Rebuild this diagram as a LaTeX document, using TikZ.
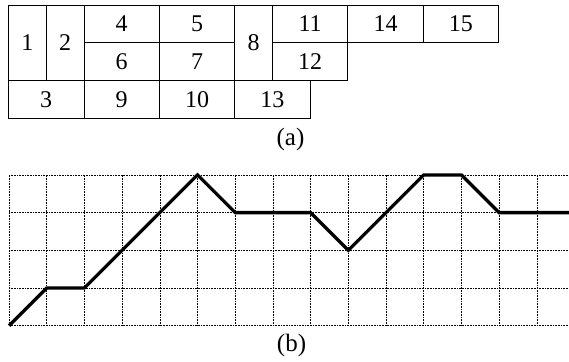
\documentclass[tikz,border=0pt]{standalone}
\usepackage{fontspec}
\setmainfont{Liberation Serif}
\begin{document}
\begin{tikzpicture}[x=1pt,y=-1pt,
  cell/.style={draw, line width=0.8pt, inner sep=0pt, font=\fontsize{24}{28}\selectfont},
  gridline/.style={line width=0.6pt, dash pattern=on 0.8pt off 0.8pt},
  curve/.style={line width=3.3pt, line join=miter},
  caption/.style={font=\fontsize{25}{29}\selectfont, inner sep=0pt}]
\useasboundingbox (0,0) rectangle (569,361);
\def\u{37.7}
\def\tx{8.5}
\def\ty{5}
% table cells: \cellat{name}{col0}{col1}{row0}{row1}{text}
\newcommand\cellat[6]{%
  \node[cell, minimum width={(#3-#2)*\u*1pt}, minimum height={(#5-#4)*\u*1pt}]
    (#1) at ({\tx+(#2+#3)/2*\u},{\ty+(#4+#5)/2*\u}) {#6};}
\cellat{c1}{0}{1}{0}{2}{1}
\cellat{c2}{1}{2}{0}{2}{2}
\cellat{c4}{2}{4}{0}{1}{4}
\cellat{c5}{4}{6}{0}{1}{5}
\cellat{c6}{2}{4}{1}{2}{6}
\cellat{c7}{4}{6}{1}{2}{7}
\cellat{c8}{6}{7}{0}{2}{8}
\cellat{c11}{7}{9}{0}{1}{11}
\cellat{c12}{7}{9}{1}{2}{12}
\cellat{c14}{9}{11}{0}{1}{14}
\cellat{c15}{11}{13}{0}{1}{15}
\cellat{c3}{0}{2}{2}{3}{3}
\cellat{c9}{2}{4}{2}{3}{9}
\cellat{c10}{4}{6}{2}{3}{10}
\cellat{c13}{6}{8}{2}{3}{13}
\node[caption] (capa) at (290.5,139) {(a)};
% grid
\def\gx{9}
\def\gy{325.7}
\foreach \k in {0,...,14} {
  \draw[gridline] ({\gx+\k*\u},{\gy}) -- ({\gx+\k*\u},{\gy-4*\u});
}
\foreach \j in {0,...,4} {
  \draw[gridline] ({\gx},{\gy-\j*\u}) -- (569,{\gy-\j*\u});
}
\foreach \n/\a/\b in {p0/0/0, p1/1/1, p2/2/1, p3/5/4, p4/6/3, p5/8/3, p6/9/2, p7/11/4, p8/12/4, p9/13/3} {
  \coordinate (\n) at ({\gx+\a*\u},{\gy-\b*\u});
}
\coordinate (pend) at (569,{\gy-3*\u});
\draw[curve] (p0) -- (p1) -- (p2) -- (p3) -- (p4) -- (p5) -- (p6) -- (p7) -- (p8) -- (p9) -- (pend);
\node[caption] (capb) at (291.5,345) {(b)};
\end{tikzpicture}
\end{document}
